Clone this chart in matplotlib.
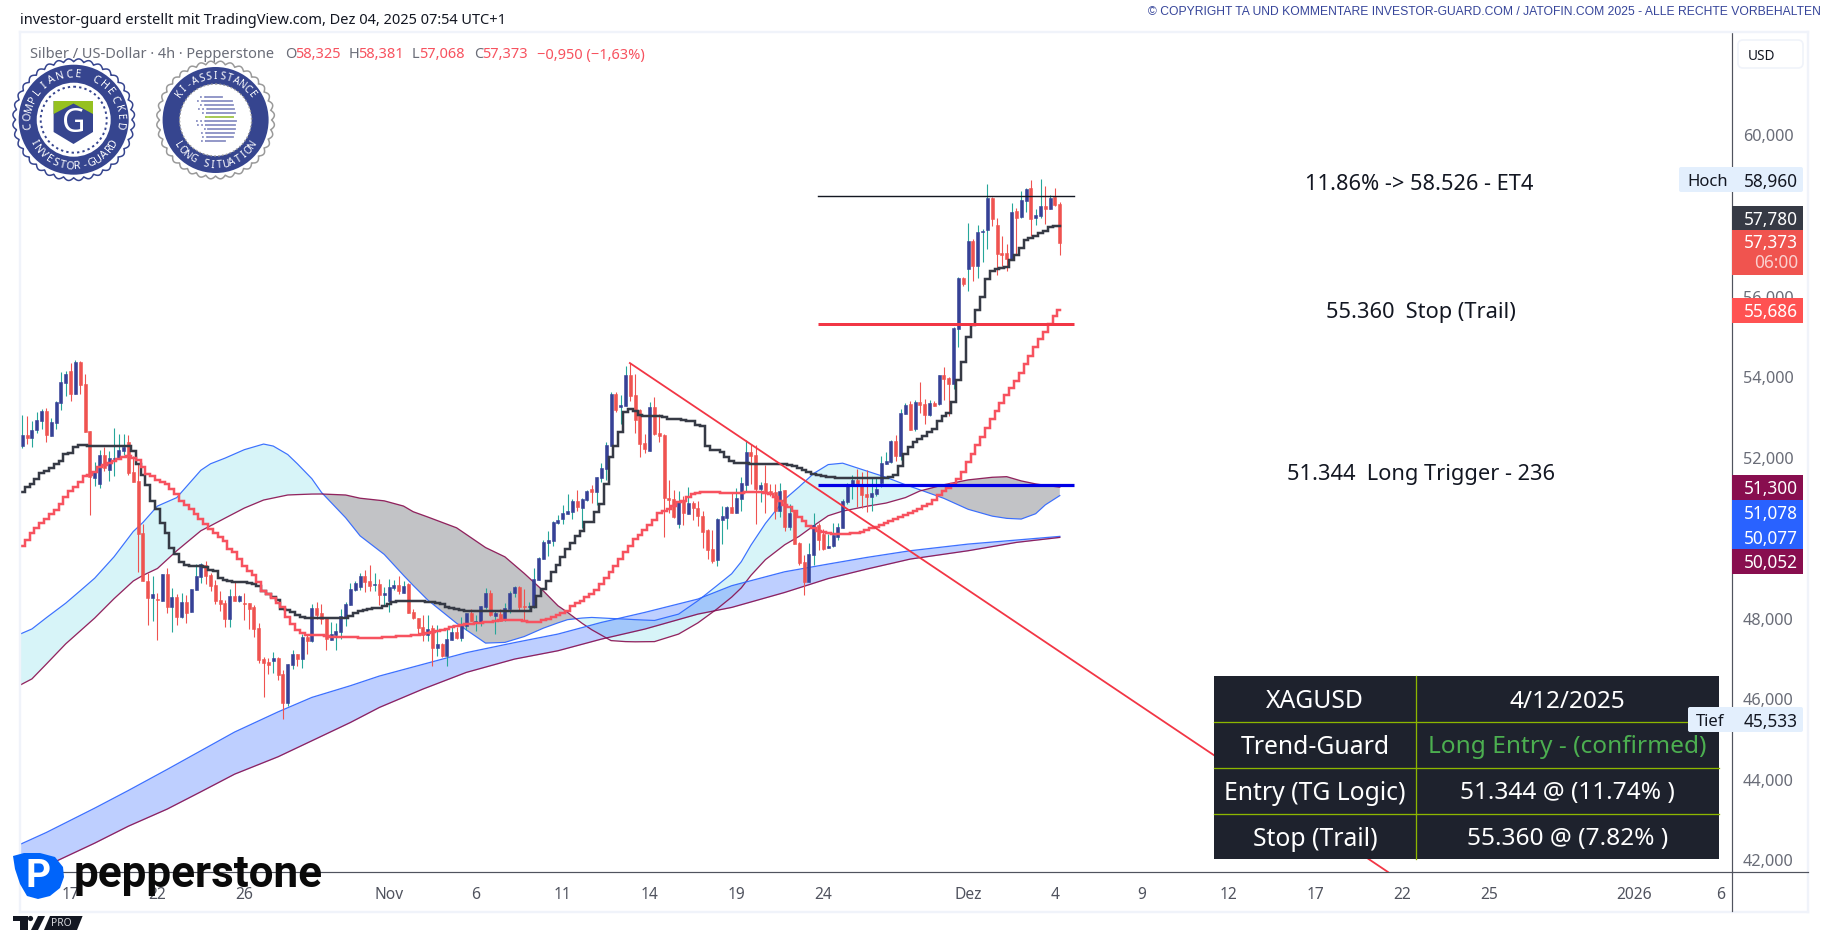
import numpy as np
import matplotlib
matplotlib.use("Agg")
import matplotlib.pyplot as plt
from matplotlib.patches import Rectangle, Circle, Polygon, FancyBboxPatch
from matplotlib.transforms import ScaledTranslation

# ---------- data (prices, bar numbers) ----------
directions = ("UDUUUDUUUU" "DUDDDUUDUU" "UUDDDDDUDU" "DUDUDUUUDD" "DDDUDUDDDD" "DDUDDUUDUD"
              "UDDDUUUUUU" "UDDUDUUUDU" "DDDDUDUDUU" "DUUDUUUDUD" "UUUDDUUUUU" "UUUUUDUUDU"
              "UUUDUUDDDD" "UDDDDDUDUD" "DDDDUUUDUU" "UDDUDDDUDU" "DDDUUDDUUU" "UUUDDDUUUU"
              "UDUUDUDDUD" "UDDUUDUDUU" "UDDDDUDUUD" "UUDUDD")
highs = [53090,53057,52941,53156,53239,53256,53007,53438,54158,54174,
 54373,54456,54423,54108,52693,51923,52221,52304,52196,52767,
 52618,52618,52594,52080,51873,50384,49167,49101,48670,49142,
 49291,48794,48645,48670,48621,48770,49390,49415,49465,49167,
 48993,48720,48496,48769,48943,48620,48670,48422,48372,47925,
 47081,47056,47205,47081,46758,46907,47255,47155,47652,47652,
 48397,48447,48397,48074,47950,47925,48273,48447,48918,48968,
 49167,49241,49365,49167,49018,48819,49018,48993,49092,48968,
 48918,48273,48049,48124,48124,47876,47876,47429,47801,47876,
 47826,48074,48174,48273,48124,48347,48794,48745,48248,48273,
 48422,48720,48844,48844,48769,48447,49291,49556,49978,50210,
 50458,50607,50855,51129,51004,51228,51029,51228,51352,51551,
 51898,52420,53661,53661,53587,54307,54381,54108,53239,52618,
 53413,53537,53115,52618,51476,51228,51203,51079,51302,50955,
 50955,50706,50259,50235,50532,50830,50830,51169,51269,51542,
 52469,52370,52345,51418,51848,51376,51376,51401,51227,50880,
 50731,49928,49613,49911,50656,50408,50259,50135,50408,50408,
 51004,51401,51600,51749,51666,51724,51550,51550,52072,52171,
 52469,52593,53239,53388,53438,53462,53909,53487,53462,53438,
 54083,54282,54034,55275,56517,56517,57858,57460,57808,57709,
 58826,58503,57982,57535,57336,58354,58230,58652,58727,58925,
 58205,58950,58776,58553,58727,58381]
body_tops = [52594,52594,52718,52966,53189,53189,52916,53413,53910,54108,
 54174,54414,54398,53860,52693,51700,52097,52097,52022,52022,
 52221,52296,52420,51675,51451,50160,48968,48645,48521,49142,
 49142,48571,48571,48447,48447,48770,49092,49390,49365,49117,
 48869,48496,48422,48596,48596,48596,48422,48422,48322,47801,
 47031,46957,47056,47056,46659,46907,47155,47155,47578,47578,
 48298,48298,48174,48074,47652,47727,48099,48397,48769,48918,
 49092,49092,48968,48894,48894,48670,48819,48869,48869,48844,
 48894,48198,48049,47826,47776,47801,47404,47404,47528,47702,
 47702,47900,48174,48174,47975,48347,48670,48670,48174,48149,
 48298,48670,48819,48819,48347,48347,49018,49531,49937,49986,
 50433,50483,50657,50698,50955,50955,51004,51203,51253,51551,
 51774,52345,53612,53612,53338,54083,54083,53587,53214,52395,
 53289,53289,52643,52594,51029,51004,50930,50980,50905,50905,
 50781,50582,50235,49763,50507,50582,50805,50805,51029,51401,
 52171,52171,52096,51351,51401,51202,51169,51202,51227,50656,
 50706,49911,49431,49638,50358,50358,50135,49837,50110,50309,
 50954,51376,51476,51476,51376,51128,51153,51252,51898,51947,
 52444,52444,53140,53338,53363,53413,53413,53363,53388,53388,
 54083,54083,54009,55250,56492,56492,57411,57411,57634,57667,
 58478,58478,57808,57113,57113,58131,58155,58429,58702,58727,
 58056,58280,58280,58478,58511,58325]
body_bottoms = [52320,52527,52519,52718,52941,52594,52569,52892,53388,53885,
 53612,53612,53835,52668,51542,51526,51377,51766,51724,51998,
 51998,52196,51650,51427,50135,48968,48546,48546,48505,48472,
 48323,48323,48074,48074,48174,48198,48745,49067,49092,48844,
 48471,48397,48025,48025,48471,48471,48405,48273,47776,47006,
 46932,46882,46982,46634,45939,45939,46882,47031,47031,47478,
 47478,48124,48025,47528,47503,47627,47702,48074,48372,48745,
 48819,48943,48844,48877,48620,48620,48471,48794,48720,48670,
 48174,48049,47801,47627,47627,47304,47304,47106,47106,47503,
 47553,47553,47851,47975,47958,47950,48322,48124,48099,47975,
 48000,48273,48670,48322,48322,48330,48322,49001,49523,49912,
 49961,50408,50508,50640,50682,50806,50781,50979,51178,51178,
 51526,51749,52320,53206,53289,53314,53562,52966,52370,52246,
 52196,52618,52569,51029,50980,50557,50384,50657,50632,50781,
 50582,50185,49738,49465,49489,50482,50532,50656,50656,51004,
 51351,52072,51252,51252,51169,51128,50706,50706,50309,50309,
 49886,49415,48943,48943,49613,49986,49762,49787,49837,50060,
 50284,50929,51351,51376,51103,51054,51054,51128,51401,51873,
 51923,52072,52072,53115,52718,52742,53338,53090,53090,53313,
 53363,53984,53860,53860,55225,56343,56715,56790,56790,57642,
 57684,57957,57088,57063,56964,56939,57982,58006,58404,57957,
 57982,58031,58205,58205,58304,57373]
lows = [52271,52370,52304,52651,52743,52428,52560,52743,53223,53570,
 53438,53612,53612,52660,50615,51335,51278,51691,51451,51575,
 51998,52097,51600,51418,49192,48968,47876,47967,47503,48472,
 48174,47702,47876,48050,47925,48190,48745,48918,48894,48720,
 48397,48223,47826,47826,48471,48447,48000,47776,47578,46932,
 46088,46659,46684,46510,45541,45864,46783,46857,46808,47155,
 47453,48025,47900,47255,47503,47255,47528,47851,48372,48720,
 48745,48695,48720,48720,48372,48372,48198,48745,48645,48670,
 48174,48025,47627,47478,47478,46857,47106,47081,46857,47503,
 47528,47478,47751,47975,47727,47851,48273,48099,47652,47975,
 47975,48174,48571,48223,47975,48223,48306,49001,49515,49597,
 49829,50384,50384,50640,50508,50706,50284,50955,50905,50855,
 51427,51476,52320,53165,52867,53314,53438,52643,52047,52147,
 52196,52594,52420,50061,50657,50533,50284,50359,50632,50483,
 50334,49788,49514,49415,49340,49886,50259,50656,50656,50706,
 51202,51376,50383,50929,50656,51087,50507,50557,50209,50234,
 49886,49365,48620,48943,49365,49737,49737,49787,49812,49986,
 50284,50880,51004,50797,50780,50681,50706,51078,51294,51873,
 51898,51947,51972,53115,52718,52693,53140,52866,53065,53313,
 53338,53462,53065,53736,54779,56293,56169,56417,56492,56889,
 57212,57783,56566,56790,56666,56939,57063,57982,58131,57535,
 57808,57982,57833,58205,58280,57068]
black_line = [51186,51294,51377,51501,51650,51691,51766,51873,51956,52114,
 52147,52287,52354,52345,52312,52312,52312,52312,52312,52312,
 52312,52312,52312,52205,51873,51600,51352,50963,50756,50408,
 50160,49788,49639,49432,49366,49349,49349,49349,49307,49250,
 49208,49034,49001,48968,48952,48952,48952,48927,48902,48852,
 48728,48645,48563,48496,48273,48248,48190,48124,48082,48058,
 48049,48049,48049,48049,48049,48049,48049,48049,48091,48174,
 48231,48256,48281,48298,48298,48355,48397,48438,48463,48480,
 48480,48480,48480,48472,48455,48438,48415,48389,48331,48306,
 48273,48240,48223,48223,48223,48223,48223,48223,48223,48223,
 48223,48223,48223,48223,48223,48223,48314,48590,48770,48977,
 49184,49366,49556,49763,49912,50077,50218,50442,50442,50690,
 50880,51369,52039,52329,52660,53156,53239,53198,53098,53074,
 53057,53057,53057,53032,52999,52999,52999,52974,52949,52949,
 52842,52809,52329,52221,52221,52163,52038,51939,51889,51889,
 51889,51881,51881,51881,51881,51881,51881,51865,51865,51848,
 51815,51765,51716,51674,51633,51608,51583,51558,51541,51525,
 51525,51525,51525,51525,51525,51525,51525,51525,51525,51525,
 51558,51608,51832,52121,52287,52411,52494,52560,52660,52742,
 52949,53073,53140,53421,53967,54398,55018,55325,55705,56028,
 56467,56674,56715,56740,56765,56947,57063,57228,57444,57493,
 57543,57609,57667,57767,57783,57783]
red_line = [49846,49995,50160,50284,50408,50508,50632,50739,50880,51046,
 51211,51294,51418,51567,51600,51667,51791,51849,51890,51956,
 51998,52039,52064,52014,51965,51791,51625,51567,51484,51435,
 51377,51253,51128,50963,50855,50756,50632,50500,50380,50260,
 50150,50050,49970,49763,49680,49514,49349,49225,49117,48935,
 48728,48645,48538,48422,48314,48066,47900,47760,47677,47627,
 47627,47627,47627,47602,47586,47569,47569,47569,47578,47578,
 47561,47561,47561,47561,47561,47570,47586,47590,47598,47605,
 47611,47623,47635,47665,47690,47715,47740,47760,47790,47818,
 47850,47876,47895,47910,47925,47935,47948,47958,47975,47990,
 48000,48005,48008,47990,47967,47958,47950,47958,48008,48020,
 48083,48124,48166,48231,48339,48414,48480,48563,48645,48753,
 48894,49034,49200,49349,49514,49697,49846,50011,50110,50243,
 50359,50491,50657,50698,50756,50839,50922,50963,51046,51129,
 51162,51178,51178,51170,51169,51160,51153,51153,51153,51160,
 51169,51178,51186,51170,51145,51128,51045,50962,50855,50797,
 50714,50549,50466,50342,50292,50218,50176,50151,50143,50135,
 50135,50135,50151,50160,50193,50242,50275,50317,50358,50408,
 50449,50507,50557,50606,50656,50714,50755,50822,50880,50987,
 51103,51211,51269,51376,51500,51666,51914,52121,52345,52552,
 52775,52991,53198,53388,53587,53752,53943,54133,54356,54563,
 54787,54977,55159,55350,55557,55690]
cloud_a_bars = [0.54,3,6,10,13,16,20,24,26,29,33,38,40,43,47,51,53,56,58,61,63,68,71,76,80,82,85,91,97,101,105,109,112,114,117,119,123,126,128,132,137,141,145,148,150,152,155,159,162,165,168,171,176,180,184,187,192,197,202,205,208,211,213,216]
cloud_a_blue = [47652,47780,48060,48420,48728,49040,49570,50200,50424,50830,51040,51720,51880,52020,52230,52370,52320,52110,51880,51510,51169,50540,50090,49630,49110,48860,48500,47920,47428,47445,47590,47800,47930,48010,48050,48065,48040,48024,48010,47990,48148,48480,48860,49150,49450,49860,50400,51000,51310,51640,51860,51895,51700,51545,51360,51235,51020,50750,50580,50525,50507,50640,50860,51090]
cloud_a_maroon = [46385,46540,46910,47410,47730,48050,48530,48970,49110,49280,49720,50217,50340,50530,50780,50980,51030,51105,51115,51128,51130,51105,51025,50960,50830,50690,50560,50290,49800,49570,49160,48720,48355,48190,47920,47760,47490,47465,47460,47465,47652,47930,48280,48570,48800,49110,49500,49870,50080,50342,50590,50705,50825,50905,51040,51205,51360,51480,51545,51560,51455,51380,51345,51300]
cloud_b_bars = [0.54,6,16,23,31,38,45,54,61,69,75,84,93,103,112,121,130,141,148,159,168,176,185,197,207,216]
cloud_b_blue = [42430,42727,43330,43770,44290,44755,45220,45720,46079,46370,46610,46900,47190,47440,47652,47941,48190,48521,48852,49199,49390,49555,49721,49886,49986,50077]
cloud_b_maroon = [41580,41900,42462,42884,43306,43737,44175,44606,45003,45458,45831,46286,46700,47031,47238,47527,47776,48148,48314,48686,49030,49266,49514,49721,49928,50052]
trend_bars = [126.9, 284]
trend_prices = [54381, 41745]
level_bars = [165.9, 219]
et4_level = 58526
stop_level = 55360
trigger_level = 51344
price_ticks = [42000,44000,46000,48000,50000,52000,54000,56000,58000,60000]
price_tick_labels = ["42,000","44,000","46,000","48,000","","52,000","54,000","56,000","","60,000"]
date_tick_bars = [11,29,47,77,95,113,131,149,167,197,215,233,251,269,287,305,335,353]
date_tick_labels = ["17","22","26","Nov","6","11","14","19","24","Dez","4","9","12","17","22","25","2026","6"]
table_rows = [("XAGUSD","4/12/2025"),("Trend-Guard","Long Entry - (confirmed)"),
              ("Entry (TG Logic)","51.344 @ (11.74% )"),("Stop (Trail)","55.360 @ (7.82% )")]

# ---------- figure ----------
W, H = 1828, 937
FONT = "Noto Sans"
plt.rcParams["font.family"] = [FONT, "DejaVu Sans"]
fig = plt.figure(figsize=(W/100, H/100), dpi=100, facecolor="white")
px = 0.72  # points per pixel at dpi 100
ax = fig.add_axes([20/W, 1-873/H, (1732-20)/W, (873-33)/H])
ax.set_xlim(0.52, 355.3)
ax.set_ylim(41745, 62600)
ax.set_facecolor("white")
for s in ("top", "left"):
    ax.spines[s].set_visible(False)
for s in ("right", "bottom"):
    ax.spines[s].set_color("#50535e")
    ax.spines[s].set_linewidth(1*px*1.2)

bars = np.arange(1, len(highs)+1)
up = np.array([d == "U" for d in directions])
highs_a, lows_a = np.array(highs), np.array(lows)
tops, bots = np.array(body_tops), np.array(body_bottoms)

# clouds
xa = np.array(cloud_a_bars)
ba, ma = np.array(cloud_a_blue), np.array(cloud_a_maroon)
ax.fill_between(xa, ba, ma, where=ba >= ma, interpolate=True, color="#00bcd4", alpha=0.155, lw=0, zorder=1)
ax.fill_between(xa, ba, ma, where=ba <= ma, interpolate=True, color="#363a45", alpha=0.30, lw=0, zorder=1)
ax.fill_between(cloud_b_bars, cloud_b_blue, cloud_b_maroon, color="#2962ff", alpha=0.30, lw=0, zorder=1.2)
ax.plot(xa, ba, color="#2962ff", lw=1.2*px, alpha=.9, zorder=2)
ax.plot(xa, ma, color="#880e4f", lw=1.3*px, alpha=.9, zorder=2)
ax.plot(cloud_b_bars, cloud_b_blue, color="#2962ff", lw=1.3*px, alpha=.9, zorder=2)
ax.plot(cloud_b_bars, cloud_b_maroon, color="#880e4f", lw=1.3*px, alpha=.9, zorder=2)

# candles
UP_BODY, UP_WICK, DOWN = "#364196", "#26a69a", "#ef5350"
ax.vlines(bars[up], lows_a[up], highs_a[up], color=UP_WICK, lw=1.1*px, zorder=3)
ax.vlines(bars[~up], lows_a[~up], highs_a[~up], color=DOWN, lw=1.1*px, zorder=3)
ax.bar(bars[up], (tops-bots)[up], bottom=bots[up], width=0.62, color=UP_BODY, lw=0.4, edgecolor=UP_BODY, zorder=3.2)
ax.bar(bars[~up], (tops-bots)[~up], bottom=bots[~up], width=0.62, color=DOWN, lw=0.4, edgecolor=DOWN, zorder=3.2)

# stepped averages (the first step runs to the left edge of the pane)
left_edge = 0.52
ax.step(np.r_[left_edge, bars], np.r_[black_line[0], black_line], where="mid", color="#363a45", lw=2.5*px, zorder=4, solid_joinstyle="miter")
ax.step(np.r_[left_edge, bars], np.r_[red_line[0], red_line], where="mid", color="#f7525f", lw=2.5*px, zorder=4, solid_joinstyle="miter")

# drawn lines
ax.plot(trend_bars, trend_prices, color="#f23645", lw=1.8*px, zorder=4.5)
ax.plot(level_bars, [et4_level]*2, color="#131722", lw=1.4*px, zorder=5)
ax.plot(level_bars, [stop_level]*2, color="#f23645", lw=3*px, zorder=5, solid_capstyle="butt")
ax.plot(level_bars, [trigger_level]*2, color="#0000e6", lw=3.2*px, zorder=5, solid_capstyle="butt")

# axes ticks
ax.yaxis.tick_right()
ax.set_yticks(price_ticks)
ax.set_yticklabels(price_tick_labels, fontsize=11.7, color="#6a6d78")
ax.tick_params(axis="y", length=0, pad=8)
for lab in ax.get_yticklabels():
    lab.set_transform(lab.get_transform() + ScaledTranslation(0, 2.3/100, fig.dpi_scale_trans))
ax.set_xticks(date_tick_bars)
ax.set_xticklabels(date_tick_labels, fontsize=11.2, color="#50535e")
ax.tick_params(axis="x", length=0, pad=10)
ax.get_xticklabels()[16].set_fontweight("bold")

# ---------- overlay in pixel coordinates: chart furniture ----------
ov = fig.add_axes([0, 0, 1, 1], zorder=10)
ov.set_xlim(0, W); ov.set_ylim(H, 0); ov.axis("off"); ov.patch.set_alpha(0)

# frame
for seg in (((20,33),(1808,33)), ((20,33),(20,913)), ((20,913),(1808,913)), ((1808,33),(1808,913))):
    ov.plot(*zip(*seg), color="#f0f3fa", lw=2.4*px, zorder=0)
ov.plot([1732,1808],[873,873], color="#50535e", lw=1.2*px)
ov.plot([1732,1732],[873,912], color="#50535e", lw=1.2*px)

def t(x, y, s, size, color="#131722", ha="left", va="center", **k):
    return ov.text(x, y, s, fontsize=size, color=color, ha=ha, va=va, **k)

# header / legend
t(20, 20, "investor-guard erstellt mit TradingView.com, Dez 04, 2025 07:54 UTC+1", 10.5, "#131722")
t(1821, 12, "© COPYRIGHT TA UND KOMMENTARE INVESTOR-GUARD.COM / JATOFIN.COM 2025 - ALLE RECHTE VORBEHALTEN",
  8.72, "#36459a", ha="right", fontfamily=["Liberation Sans"])
GREY, RED = "#6a6d78", "#f7525f"
LY = 55
t(30, LY, "Silber / US-Dollar · 4h · Pepperstone", 10.5, GREY)
for xl, lab, xv, val in ((285,"O",295,"58,325"),(349,"H",358,"58,381"),(412,"L",419,"57,068"),(474,"C",482,"57,373")):
    t(xl, LY, lab, 10.5, GREY); t(xv, LY, val, 10.5, RED)
t(537, LY, "−0,950 (−1,63%)", 10.5, RED)

# annotations
t(1419, 185, "11.86% -> 58.526 - ET4", 15.7, "#131722", ha="center")
t(1421, 313, "55.360  Stop (Trail)", 15.7, "#131722", ha="center")
t(1421, 475, "51.344  Long Trigger - 236", 15.7, "#131722", ha="center")

# USD box
ov.add_patch(FancyBboxPatch((1738,41), 65, 28, boxstyle="round,pad=0,rounding_size=5", fc="white", ec="#f0f3fa", lw=1.2))
t(1748, 57, "USD", 9.8, "#131722")

# price tags
TAGSIZE = 12.4
def tag(y0, y1, color, lines, x0=1732):
    ov.add_patch(Rectangle((x0, y0), 1803-x0, y1-y0, fc=color, ec="none", zorder=2))
    for yc, s, c in lines:
        t(1798, yc+1.5, s, TAGSIZE, c, ha="right", zorder=3, fontweight="medium")

tag(207, 231, "#363a45", [(218.5, "57,780", "white")])
tag(231, 276, "#f0544f", [(242, "57,373", "white"), (262, "06:00", "#fbd0ce")])
tag(299, 324, "#ff5252", [(311, "55,686", "white")])
tag(476, 501, "#880e4f", [(488, "51,300", "white")])
tag(501, 526, "#2962ff", [(513, "51,078", "white")])
tag(526, 550, "#2962ff", [(537.5, "50,077", "white")])
tag(550, 575, "#880e4f", [(562, "50,052", "white")])

# table
TX0, TX1, TX2 = 1214, 1416, 1719
TY = [677, 722.5, 768.5, 814.5, 860]
GRID = "#8db600"
ov.add_patch(Rectangle((TX0, TY[0]), TX2-TX0, TY[-1]-TY[0], fc="#1e222d", ec="none", zorder=1))
ov.plot([TX1, TX1], [TY[0], TY[-1]], color=GRID, lw=1.3*px, zorder=1.5)
for yy in TY[1:-1]:
    ov.plot([TX0, TX2], [yy, yy], color=GRID, lw=1.3*px, zorder=1.5)
for r, (a, b) in enumerate(table_rows):
    yc = (TY[r]+TY[r+1])/2 + 2
    t((TX0+TX1)/2, yc, a, 17.8, "white", ha="center", zorder=2)
    t((TX1+TX2)/2, yc, b, 17.6, "#4caf50" if r == 1 else "white", ha="center", zorder=2)

# high / low tags (above table)
for x0, y0, y1, lab, val in ((1679, 168, 193, "Hoch", "58,960"), (1688, 708, 733, "Tief", "45,533")):
    ov.add_patch(FancyBboxPatch((x0, y0), 1803-x0, y1-y0, boxstyle="round,pad=0,rounding_size=2", fc="#e3effd", ec="none", zorder=3))
    t(x0+8, (y0+y1)/2+1.5, lab, 12, "#131722", zorder=4)
    t(1798, (y0+y1)/2+1.5, val, TAGSIZE, "#131722", ha="right", zorder=4)

# seals
def scallop(cx, cy, r, amp, n, **k):
    th = np.linspace(0, 2*np.pi, 720)
    rr = r + amp*np.abs(np.sin(n*th/2))
    ov.add_patch(Polygon(np.c_[cx+rr*np.cos(th), cy+rr*np.sin(th)], closed=True, **k))

def curved(s, cx, cy, r, spacing, size, top=True):
    n = len(s)
    for i, ch in enumerate(s):
        a = (i-(n-1)/2)*spacing
        ra = np.radians(a)
        if top:
            x, y, rot = cx+r*np.sin(ra), cy-r*np.cos(ra), -a
        else:
            x, y, rot = cx+r*np.sin(ra), cy+r*np.cos(ra), a
        ov.text(x, y, ch, fontsize=size, color="white", ha="center", va="center", rotation=rot,
                rotation_mode="anchor", fontweight="bold", zorder=6)

NAVY = "#36458f"
cx, cy = 73.7, 120.7
scallop(cx, cy, 58, 3, 36, fc="white", ec=NAVY, lw=1.1, zorder=4)
ov.add_patch(Circle((cx, cy), 55, fc=NAVY, ec="none", zorder=5))
ov.add_patch(Circle((cx, cy), 37, fc="white", ec="none", zorder=5))
ov.add_patch(Circle((cx, cy), 33, fc="none", ec=NAVY, ls=(0, (1.2, 1.6)), lw=1.4, zorder=5))
ov.add_patch(Polygon([(53.6,102),(93,102),(93,133),(73.5,145),(53.6,133)], closed=True, fc=NAVY, ec="none", zorder=5.2))
ov.add_patch(Polygon([(53.6,102),(93,102),(93,115),(73.5,104.5),(53.6,115)], closed=True, fc="#96c11f", ec="none", zorder=5.3))
ov.text(73.5, 124, "G", fontsize=23, color="white", ha="center", va="center", fontweight="bold", zorder=5.4)
curved("COMPLIANCE CHECKED", cx, cy, 46, 11.4, 7.8)
curved("INVESTOR-GUARD", cx, cy, 46, 9.4, 7.8, top=False)

cx, cy = 215.6, 121
scallop(cx, cy, 56, 3, 36, fc="white", ec="#9a9a9a", lw=1.1, zorder=4)
ov.add_patch(Circle((cx, cy), 53, fc=NAVY, ec="none", zorder=5))
ov.add_patch(Circle((cx, cy), 36, fc="white", ec="none", zorder=5))
ov.add_patch(Circle((cx, cy), 36, fc="none", ec="#9a9a9a", ls=(0, (1.2, 1.6)), lw=1.0, zorder=5))
for yy, xa0, xs, xe in ((98,200,206,222),(102,197,204,232),(106,200,206,233),(110,198,208,234),(114,202,207,235),
                        (118,205,212,233),(122,196,206,236),(126,197,206,235),(130,204,208,235),(134,201,207,234),
                        (138,202,208,233),(142,201,206,225)):
    ov.plot([xa0, xs], [yy, yy], color="#8a90c4", lw=1.3, ls=(0, (1, 1.3)), zorder=5.2)
    ov.plot([xs, xe], [yy, yy], color="#8a90c4", lw=1.3, zorder=5.2)
ov.plot([206, 233], [118, 118], color="#a9cf4e", lw=1.3, zorder=5.3)
curved("KI-ASSISTANCE", cx, cy, 44.5, 8.9, 7.2)
curved("LONG SITUATION", cx, cy, 44.5, 8.9, 7.2, top=False)

# pepperstone logo
ov.add_patch(Polygon([(13,857),(24,854),(40,854),(55,858),(63,868),(64,878),(60,889),(50,897),(38,900),(27,897),(20,885),(15,870)],
                     closed=True, fc="#0064fa", ec="none", zorder=7))
ov.text(38.5, 877, "P", fontsize=28, color="white", ha="center", va="center", fontweight="bold", fontfamily=["Roboto"], zorder=8)
ov.text(74, 875, "pepperstone", fontsize=31.7, color="#0a0a0a", ha="left", va="center", fontweight="bold", fontfamily=["Roboto"], zorder=7)

# tradingview pro mark
MARK = "#131722"
ov.add_patch(Polygon([(13,917),(28,917),(28,931),(20,931),(20,922),(13,922)], closed=True, fc=MARK, ec="none", zorder=7))
ov.add_patch(Circle((30.5,919.5), 2.6, fc=MARK, ec="none", zorder=7))
ov.add_patch(Polygon([(38,917),(45,917),(38,931),(31,931)], closed=True, fc=MARK, ec="none", zorder=7))
ov.add_patch(Polygon([(50,917),(82.6,917),(77,931),(44,931)], closed=True, fc=MARK, ec="none", zorder=7))
ov.text(61, 924, "PRO", fontsize=7.4, color="#d8d9dd", ha="center", va="center", fontweight="bold", zorder=8)

fig.savefig("out.png", dpi=100, facecolor="white")
